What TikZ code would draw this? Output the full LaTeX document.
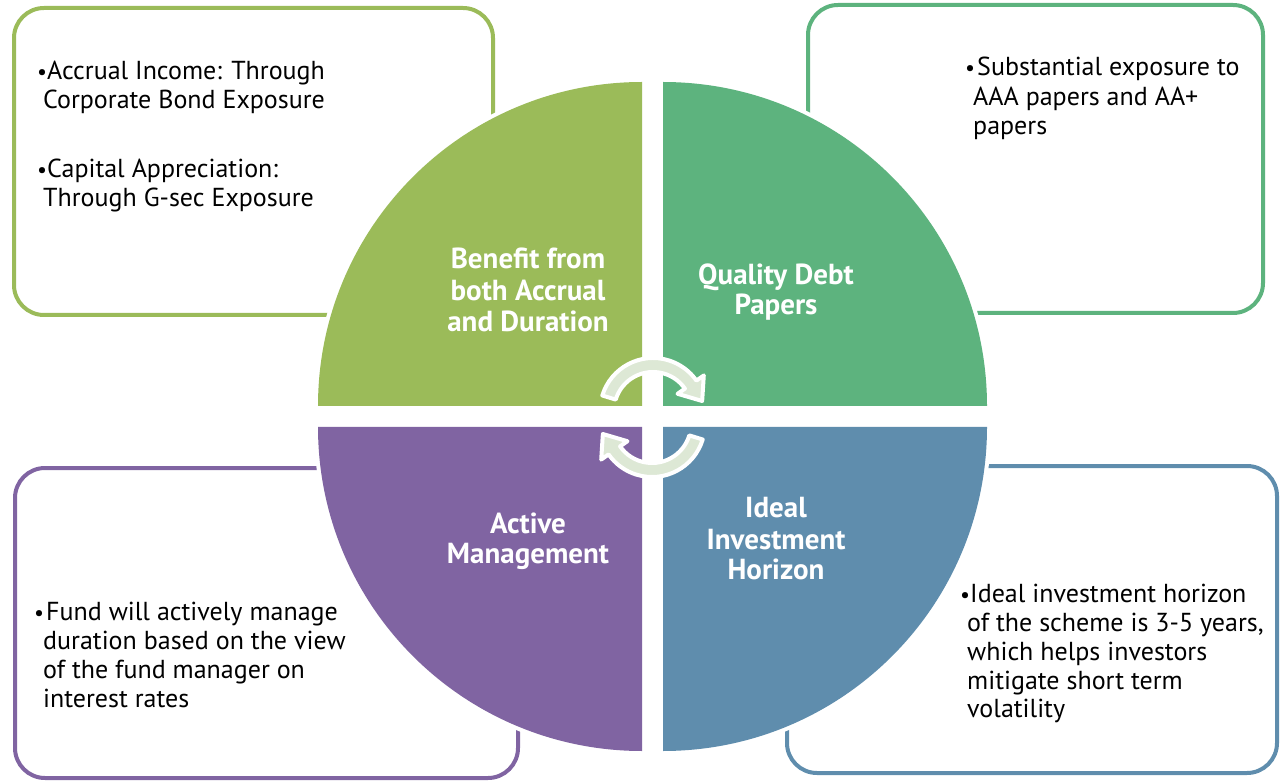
\documentclass[tikz,border=0pt]{standalone}
\usepackage{fontspec}
\setmainfont{PT Sans}
\usetikzlibrary{calc}
\definecolor{cA}{HTML}{9BBB59}
\definecolor{cB}{HTML}{5DB37E}
\definecolor{cC}{HTML}{8064A2}
\definecolor{cD}{HTML}{5F8DAD}
\definecolor{arrowfill}{HTML}{DDE8D5}
\newcommand{\bul}[1]{\makebox[#1][l]{\scalebox{0.85}{•}}}
\begin{document}
\begin{tikzpicture}[x=1pt,y=-1pt,
  box/.style={line width=4pt, rounded corners=30pt},
  quad/.style={draw=white, line width=8pt},
  body/.style={anchor=base west, inner sep=0pt, font=\fontsize{26}{31}\selectfont, text=black},
  lab/.style={anchor=base, inner sep=0pt, font=\bfseries\fontsize{29}{34}\selectfont, text=white},
  cyc/.style={fill=arrowfill, draw=white, line width=4pt, line join=round}]
\useasboundingbox (0,0) rectangle (1280,783);
% boxes
\draw[box, draw=cA] (14,8) rectangle (493,315);
\draw[box, draw=cB] (808,5) rectangle (1263,313);
\draw[box, draw=cC] (15,468) rectangle (518,778);
\draw[box, draw=cD] (787,466) rectangle (1277,773);
% quadrants
\path[quad, fill=cA] (642,406) -- (318,406) arc[start angle=180, end angle=90, radius=324pt] -- cycle;
\fill[cA] (642,406) -- (318,406) arc[start angle=180, end angle=90, radius=324pt] -- cycle;
\path[quad, fill=cB] (663,406) -- (663,82) arc[start angle=90, end angle=0, radius=324pt] -- cycle;
\fill[cB] (663,406) -- (663,82) arc[start angle=90, end angle=0, radius=324pt] -- cycle;
\path[quad, fill=cD] (663,427) -- (987,427) arc[start angle=0, end angle=-90, radius=324pt] -- cycle;
\fill[cD] (663,427) -- (987,427) arc[start angle=0, end angle=-90, radius=324pt] -- cycle;
\path[quad, fill=cC] (642,427) -- (642,751) arc[start angle=-90, end angle=-180, radius=324pt] -- cycle;
\fill[cC] (642,427) -- (642,751) arc[start angle=-90, end angle=-180, radius=324pt] -- cycle;
% cycle arrows
\coordinate (C1) at (653,411);
\coordinate (C2) at (652,424);
\draw[cyc] ($(C1)+(163:53pt)$) arc[start angle=163, end angle=35, radius=53pt]
  -- ($(C1)+(35:62pt)$) -- ($(C1)+(35:46pt)+(-55:20pt)$) -- ($(C1)+(35:30pt)$)
  -- ($(C1)+(35:39pt)$) arc[start angle=35, end angle=163, radius=39pt] -- cycle;
\draw[cyc] ($(C2)+(-17:53pt)$) arc[start angle=-17, end angle=-145, radius=53pt]
  -- ($(C2)+(-145:62pt)$) -- ($(C2)+(-145:46pt)+(125:20pt)$) -- ($(C2)+(-145:30pt)$)
  -- ($(C2)+(-145:39pt)$) arc[start angle=-145, end angle=-17, radius=39pt] -- cycle;
% box texts
\node[body] (tl1) at (37,80) {\bul{10pt}Accrual Income: Through};
\node[body] (tl2) at (43,109) {Corporate Bond Exposure};
\node[body] (tl3) at (37,178) {\bul{10pt}Capital Appreciation:};
\node[body] (tl4) at (43,207) {Through G-sec Exposure};
\node[body] (tr1) at (965,76) {\bul{12pt}Substantial exposure to};
\node[body] (tr2) at (973,106) {AAA papers and AA+};
\node[body] (tr3) at (973,135) {papers};
\node[body] (bl1) at (34,620) {\bul{12pt}Fund will actively manage};
\node[body] (bl2) at (43,649) {duration based on the view};
\node[body] (bl3) at (43,678) {of the fund manager on};
\node[body] (bl4) at (43,707) {interest rates};
\node[body] (br1) at (960,602) {\bul{10pt}Ideal investment horizon};
\node[body] (br2) at (967,631) {of the scheme is 3-5 years,};
\node[body] (br3) at (967,660) {which helps investors};
\node[body] (br4) at (967,689) {mitigate short term};
\node[body] (br5) at (967,717) {volatility};
% quadrant labels
\node[lab] (qa1) at (528,269) {Benefit from};
\node[lab] (qa2) at (528,301) {both Accrual};
\node[lab] (qa3) at (528,332) {and Duration};
\node[lab] (qb1) at (776,285) {Quality Debt};
\node[lab] (qb2) at (776,315) {Papers};
\node[lab] (qc1) at (528,533) {Active};
\node[lab] (qc2) at (528,563) {Management};
\node[lab] (qd1) at (776,517) {Ideal};
\node[lab] (qd2) at (776,549) {Investment};
\node[lab] (qd3) at (776,579) {Horizon};
\end{tikzpicture}
\end{document}
